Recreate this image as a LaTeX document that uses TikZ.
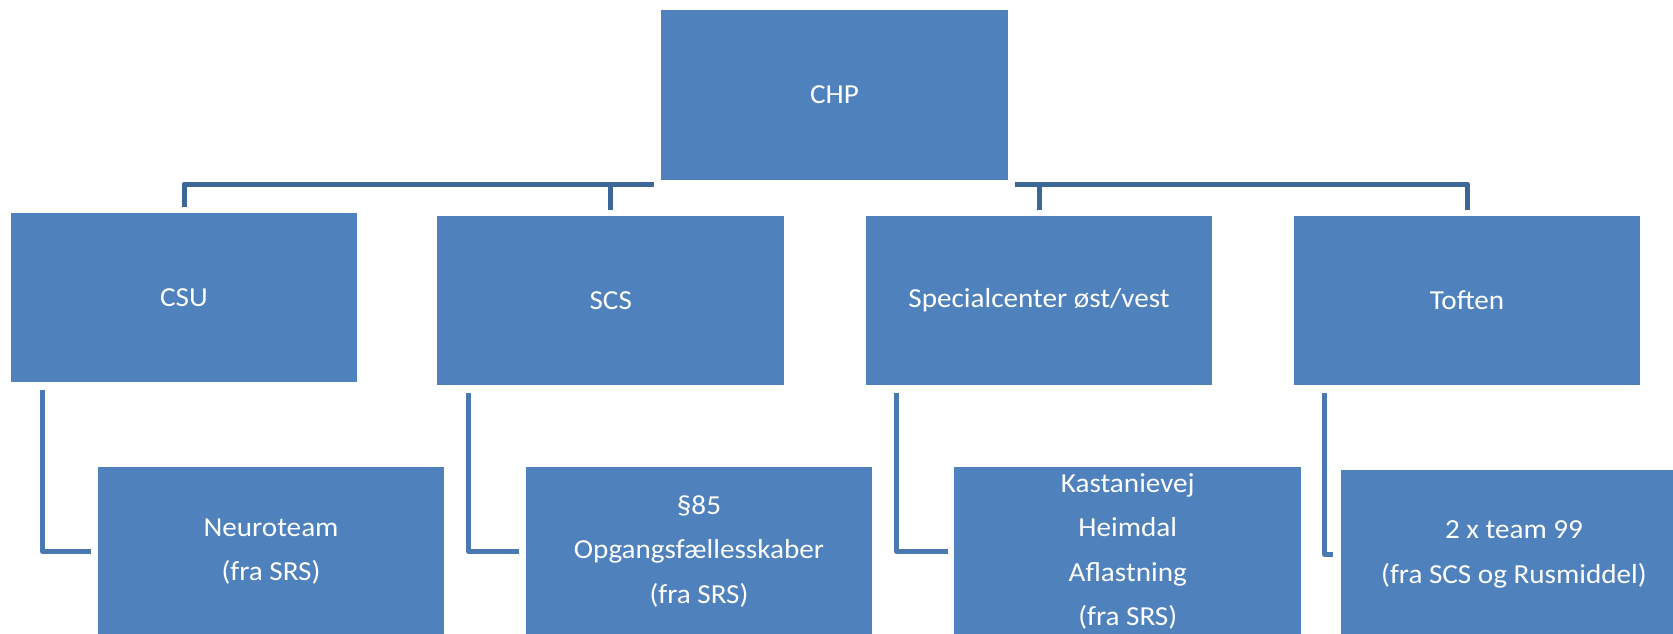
\documentclass[tikz,border=0pt]{standalone}
\usepackage{fontspec}
\setmainfont{Carlito}[FakeStretch=1.06]
\usetikzlibrary{calc}
\definecolor{boxblue}{HTML}{4F81BD}
\definecolor{topline}{HTML}{3D6699}
\definecolor{childline}{HTML}{4A78B0}
\tikzset{
  orgbox/.style={rectangle, fill=boxblue, draw=white, line width=1.2pt,
    minimum width=348pt, minimum height=171pt, inner sep=0pt,
    text=white, font=\fontsize{27.5}{44.5}\selectfont, align=center},
  busline/.style={draw=topline, line width=5pt, line join=round},
  subline/.style={draw=childline, line width=4.5pt, line join=round}
}
\begin{document}
\begin{tikzpicture}[x=1pt,y=-1pt]
\useasboundingbox (0,0) rectangle (1673,634);
\fill[white] (0,0) rectangle (1673,634);
\clip (0,0) rectangle (1673,634);
% top level boxes
\node[orgbox, minimum width=349pt, minimum height=172pt] (chp) at (834.5,95) {CHP};
\node[orgbox] (csu) at (184,297.5) {CSU};
\node[orgbox] (scs) at (610.75,300.5) {SCS};
\node[orgbox] (spec) at (1039,300.5) {Specialcenter øst/vest};
\node[orgbox] (toften) at (1467,300.5) {Toften};
% lower boxes
\node[orgbox] (neuro) at (271,551.5) {Neuroteam\\(fra SRS)};
\node[orgbox] (p85) at (699,551.5) {§85\\Opgangsfællesskaber\\(fra SRS)};
\node[orgbox] (kast) at (1127.75,551.5) {Kastanievej\\Heimdal\\Aflastning\\(fra SRS)};
\node[orgbox] (team) at (1514,554.5) {2 x team 99\\(fra SCS og Rusmiddel)};
% bus connectors
\coordinate (busl) at ($(chp.south west)+(-5,2.5)$);
\coordinate (busr) at ($(chp.south east)+(5,2.5)$);
\draw[busline] ([yshift=4pt]csu.north) |- (busl);
\draw[busline] ([yshift=4pt]toften.north) |- (busr);
\draw[busline] ([yshift=4pt]scs.north) -- (scs.north |- busl);
\draw[busline] ([yshift=4pt]spec.north) -- (spec.north |- busr);
% child connectors
\draw[subline] ([xshift=33pt,yshift=-6pt]csu.south west) |- ([xshift=-5pt]neuro.west);
\draw[subline] ([xshift=32.5pt,yshift=-6pt]scs.south west) |- ([xshift=-5pt]p85.west);
\draw[subline] ([xshift=32pt,yshift=-6pt]spec.south west) |- ([xshift=-5.5pt]kast.west);
\draw[subline] ([xshift=32pt,yshift=-6pt]toften.south west) |- ([xshift=-6pt]team.west);
\end{tikzpicture}
\end{document}
